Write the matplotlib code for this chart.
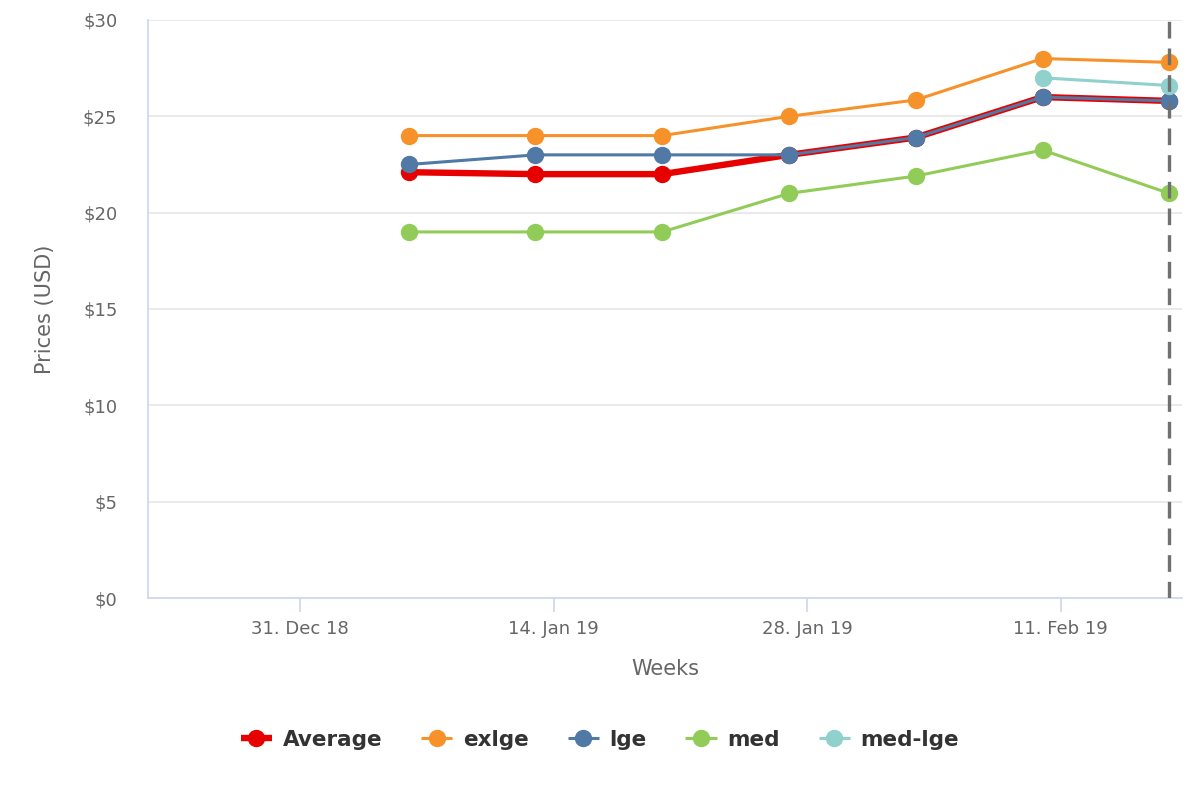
import numpy as np
import matplotlib
matplotlib.use("Agg")
import matplotlib.pyplot as plt
import matplotlib.dates as mdates
from datetime import datetime

# -----------------------------------
# Data
# -----------------------------------
weeks = ["2019-01-06", "2019-01-13", "2019-01-20", "2019-01-27",
         "2019-02-03", "2019-02-10", "2019-02-17"]

average = [22.1, 22.0, 22.0, 23.0, 23.9, 26.0, 25.8]
exlge = [24.0, 24.0, 24.0, 25.0, 25.85, 28.0, 27.8]
lge = [22.5, 23.0, 23.0, 23.0, 23.9, 26.0, 25.8]
med = [19.0, 19.0, 19.0, 21.0, 21.9, 23.25, 21.0]
med_lge = [np.nan, np.nan, np.nan, np.nan, np.nan, 27.0, 26.6]

tick_dates = ["2018-12-31", "2019-01-14", "2019-01-28", "2019-02-11"]
tick_labels = ["31. Dec 18", "14. Jan 19", "28. Jan 19", "11. Feb 19"]
y_ticks = [0, 5, 10, 15, 20, 25, 30]

x = mdates.date2num([datetime.strptime(d, "%Y-%m-%d") for d in weeks])
xt = mdates.date2num([datetime.strptime(d, "%Y-%m-%d") for d in tick_dates])

# -----------------------------------
# Plot
# -----------------------------------
fig = plt.figure(figsize=(12, 8), dpi=100)
ax = fig.add_axes([0.1233, 0.2525, 0.8617, 0.7225])

series = [
    ("Average", average, "#e60000", 4.6),
    ("exlge", exlge, "#f7922a", 2.2),
    ("lge", lge, "#5079a6", 2.2),
    ("med", med, "#92cc58", 2.2),
    ("med-lge", med_lge, "#90d0cd", 2.2),
]

for i, (name, vals, color, lw) in enumerate(series):
    ax.plot(x, vals, color=color, lw=lw, marker="o", markersize=11.5,
            label=name, zorder=3 + i, solid_capstyle="butt")

# dashed line marking the latest week
ax.axvline(x[-1], color="#707070", lw=2.4, ls=(0, (5, 3)), zorder=10)

x0 = xt[0]
ax.set_xlim(x0 - 8.4, x0 + 48.7)
ax.set_ylim(0, 30)

ax.set_xticks(xt)
ax.set_xticklabels(tick_labels)
ax.set_yticks(y_ticks)
ax.set_yticklabels([f"${v}" for v in y_ticks])

ax.tick_params(axis="x", colors="#ccd6eb", length=10, width=1.2,
               labelcolor="#666666", labelsize=13, pad=6)
ax.tick_params(axis="y", length=0, labelcolor="#666666", labelsize=13, pad=22)

ax.grid(axis="y", color="#e6e6e6", lw=1.2)
ax.set_axisbelow(True)

for side in ["top", "right"]:
    ax.spines[side].set_visible(False)
ax.spines["left"].set_color("#ccd6eb")
ax.spines["bottom"].set_color("#ccd6eb")
ax.spines["left"].set_linewidth(1.2)
ax.spines["bottom"].set_linewidth(1.2)

ax.set_xlabel("Weeks", color="#666666", fontsize=15, labelpad=15)
ax.set_ylabel("Prices (USD)", color="#666666", fontsize=15, labelpad=20)

leg = fig.legend(loc="center", bbox_to_anchor=(0.5, 0.075), ncol=5,
                 frameon=False, handlelength=1.45, columnspacing=1.8,
                 handletextpad=0.5, prop={"weight": "bold", "size": 15.5})
for t in leg.get_texts():
    t.set_color("#333333")

plt.savefig("out.png", dpi=100)
plt.close()
